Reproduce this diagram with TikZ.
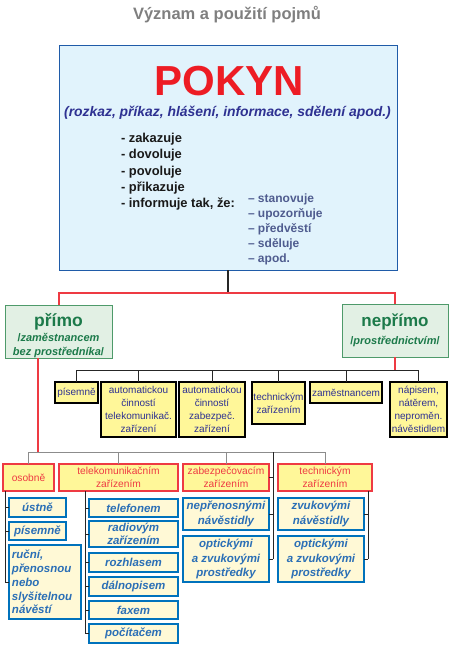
\documentclass[tikz,border=0pt]{standalone}
\usepackage{fontspec}
\setmainfont{Liberation Sans}
\definecolor{mainfill}{HTML}{E1F3FC}
\definecolor{mainborder}{HTML}{1F5BA8}
\definecolor{pokred}{HTML}{ED1C24}
\definecolor{navy}{HTML}{2E3192}
\definecolor{slate}{HTML}{4F5C8F}
\definecolor{greenfill}{HTML}{E2F0E4}
\definecolor{greenborder}{HTML}{4E9A6A}
\definecolor{greentext}{HTML}{1C7A4A}
\definecolor{redline}{HTML}{EE3A43}
\definecolor{yelfill}{HTML}{FFF799}
\definecolor{bluebord}{HTML}{0072BC}
\definecolor{bluefill}{HTML}{FFF9D6}
\definecolor{bluetext}{HTML}{2B6FB6}
\definecolor{grayline}{HTML}{8C8C8C}
\definecolor{titlegray}{HTML}{7F7F7F}
\tikzset{
  every node/.style={inner sep=0pt, outer sep=0pt},
  greenbox/.style={draw=greenborder, fill=greenfill, line width=0.9pt, align=center, text=greentext},
  ybox/.style={draw=black, fill=yelfill, line width=1.6pt, align=center, text=navy, font=\fontsize{10}{13}\selectfont},
  rbox/.style={draw=redline, fill=yelfill, line width=1.8pt, align=center, text=redline, font=\fontsize{10.2}{12.7}\selectfont},
  bbox/.style={draw=bluebord, fill=bluefill, line width=1.8pt, align=center, text=bluetext, font=\fontsize{11.5}{14.5}\selectfont\bfseries\itshape},
  redconn/.style={draw=redline, line width=2pt},
  blkconn/.style={draw=black!85, line width=0.8pt},
  grayconn/.style={draw=grayline, line width=0.9pt},
  listitem/.style={anchor=base west, font=\fontsize{12.9}{15}\selectfont\bfseries, text=black!90},
  sublist/.style={anchor=base west, font=\fontsize{12}{14}\selectfont\bfseries, text=slate},
}
\begin{document}
\begin{tikzpicture}[x=1pt, y=-1pt]
\useasboundingbox (0,0) rectangle (454,654);
% title
\node[text=titlegray, font=\fontsize{16.5}{19}\selectfont\bfseries] (title) at (227,15) {Význam a použití pojmů};
% main box
\node[draw=mainborder, fill=mainfill, line width=0.9pt, minimum width=338pt, minimum height=225pt] (pokynbox) at (228,157.5) {};
\node[text=pokred, font=\fontsize{42}{44}\selectfont\bfseries] (pokyn) at (229,81) {POKYN};
\node[text=navy, font=\fontsize{13.9}{16}\selectfont\bfseries\itshape] (subt) at (227.5,113) {(rozkaz, příkaz, hlášení, informace, sdělení apod.)};
\node[listitem] (l1) at (121,142) {- zakazuje};
\node[listitem] (l2) at (121,158) {- dovoluje};
\node[listitem] (l3) at (121,175) {- povoluje};
\node[listitem] (l4) at (121,191) {- přikazuje};
\node[listitem] (l5) at (121,207) {- informuje tak, že:};
\node[sublist] (s1) at (248,202) {– stanovuje};
\node[sublist] (s2) at (248,217) {– upozorňuje};
\node[sublist] (s3) at (248,232) {– předvěstí};
\node[sublist] (s4) at (248,247) {– sděluje};
\node[sublist] (s5) at (248,262) {– apod.};
% green boxes
\node[greenbox, minimum width=107pt, minimum height=53pt] (primo) at (58.5,331.5) {};
\node[text=greentext, font=\fontsize{17.5}{21}\selectfont\bfseries] (primot) at (58.5,322) {přímo};
\node[text=greentext, font=\fontsize{11}{14}\selectfont\bfseries\itshape, align=center] (primos) at (58.5,345.5) {\upshape/\itshape zaměstnancem\\bez prostředníka\upshape/};
\node[greenbox, minimum width=106pt, minimum height=53pt] (neprimo) at (395,330.5) {};
\node[text=greentext, font=\fontsize{17}{21}\selectfont\bfseries] (neprimot) at (395,322) {nepřímo};
\node[text=greentext, font=\fontsize{11}{14}\selectfont\bfseries\itshape] (neprimos) at (395,342) {\upshape/\itshape prostřednictvím\upshape/};
% connectors top
\coordinate (rj) at (228,293);
\draw[blkconn, line width=2pt] (pokynbox.south) -- (rj);
\draw[redconn] (primo.north) |- (rj) -| (neprimo.north);
% yellow boxes
\node[ybox, minimum width=43pt, minimum height=21pt] (y1) at (76.5,392.5) {písemně};
\node[ybox, minimum width=75pt, minimum height=55pt] (y2) at (138.5,409.5) {automatickou\\činností\\telekomunikač.\\zařízení};
\node[ybox, minimum width=66pt, minimum height=55pt] (y3) at (212,409.5) {automatickou\\činností\\zabezpeč.\\zařízení};
\node[ybox, minimum width=53pt, minimum height=42pt] (y4) at (278.5,403) {technickým\\zařízením};
\node[ybox, minimum width=72pt, minimum height=21pt] (y5) at (346,392.5) {zaměstnancem};
\node[ybox, minimum width=57pt, minimum height=55pt] (y6) at (418.5,409.5) {nápisem,\\nátěrem,\\neproměn.\\návěstidlem};
\coordinate (bh) at (0,370);
\draw[redconn] (neprimo.south) -- (neprimo.south |- bh);
\draw[blkconn] (y1.north |- bh) -- (y6.north |- bh);
\foreach \n in {y1,y2,y3,y4,y5,y6} { \draw[blkconn] (\n.north |- bh) -- (\n.north); }
% red boxes
\node[rbox, minimum width=51pt, minimum height=27pt] (r1) at (28.5,477.5) {osobně};
\node[rbox, minimum width=119pt, minimum height=27pt] (r2) at (118.5,477.5) {telekomunikačním\\zařízením};
\node[rbox, minimum width=86pt, minimum height=27pt] (r3) at (226,477.5) {zabezpečovacím\\zařízením};
\node[rbox, minimum width=94pt, minimum height=27pt] (r4) at (325,477.5) {technickým\\zařízením};
\coordinate (h2) at (0,452);
\coordinate (pd) at (38,452);
\draw[redconn] (pd |- primo.south) -- (pd);
\draw[grayconn] (r1.north |- h2) -- (r4.north |- h2);
\foreach \n in {r1,r2,r3,r4} { \draw[grayconn] (\n.north |- h2) -- (\n.north); }
% blue boxes: osobne column
\node[bbox, minimum width=57pt, minimum height=19pt] (b1) at (37.5,507.5) {ústně};
\node[bbox, minimum width=57pt, minimum height=18pt] (b2) at (37.5,531) {písemně};
\node[bbox, minimum width=72pt, minimum height=74pt, align=left, text width=66pt, font=\fontsize{11.5}{13.8}\selectfont\bfseries\itshape] (b3) at (45,582) {ruční,\\přenosnou\\nebo\\slyšitelnou\\návěstí};
\coordinate (c1) at (5,0);
\draw[blkconn] (c1 |- r1.south) -- (c1 |- b3.west);
\foreach \n in {b1,b2,b3} { \draw[blkconn] (c1 |- \n.west) -- (\n.west); }
% telekom column
\node[bbox, minimum width=89pt, minimum height=18pt] (t1) at (133.5,508) {telefonem};
\node[bbox, minimum width=89pt, minimum height=26pt, font=\fontsize{11.5}{12.5}\selectfont\bfseries\itshape] (t2) at (133.5,534) {radiovým\\zařízením};
\node[bbox, minimum width=89pt, minimum height=19pt] (t3) at (133.5,562.5) {rozhlasem};
\node[bbox, minimum width=89pt, minimum height=19pt] (t4) at (133.5,586.5) {dálnopisem};
\node[bbox, minimum width=89pt, minimum height=18pt] (t5) at (133.5,610) {faxem};
\node[bbox, minimum width=89pt, minimum height=19pt] (t6) at (133.5,633.5) {počítačem};
\coordinate (c2) at (85,0);
\draw[blkconn] (c2 |- r2.south) -- (c2 |- t6.west);
\foreach \n in {t1,t2,t3,t4,t5,t6} { \draw[blkconn] (c2 |- \n.west) -- (\n.west); }
% zabezp column
\node[bbox, minimum width=86pt, minimum height=32pt] (z1) at (226,514) {nepřenosnými\\návěstidly};
\node[bbox, minimum width=86pt, minimum height=46pt] (z2) at (226,559) {optickými\\a zvukovými\\prostředky};
\coordinate (c3) at (273,0);
\draw[blkconn] (c3 |- h2) -- (c3 |- z2.east);
\foreach \n in {r3,z1,z2} { \draw[blkconn] (c3 |- \n.east) -- (\n.east); }
% technicky column
\node[bbox, minimum width=86pt, minimum height=32pt] (q1) at (321,514) {zvukovými\\návěstidly};
\node[bbox, minimum width=86pt, minimum height=46pt] (q2) at (321,559) {optickými\\a zvukovými\\prostředky};
\coordinate (c4) at (368,0);
\draw[blkconn] (c4 |- r4.south) -- (c4 |- q2.east);
\foreach \n in {q1,q2} { \draw[blkconn] (c4 |- \n.east) -- (\n.east); }
\end{tikzpicture}
\end{document}
